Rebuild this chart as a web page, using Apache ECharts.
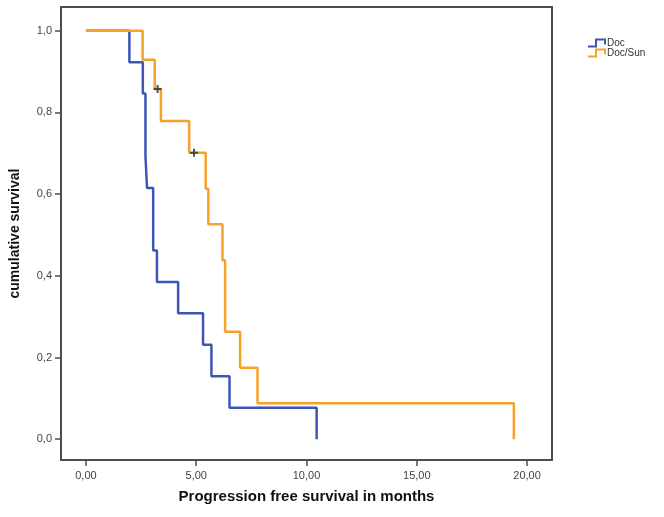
<!DOCTYPE html>
<html>
<head>
<meta charset="utf-8">
<script src="https://cdn.jsdelivr.net/npm/echarts@6/dist/echarts.min.js"></script>
<style>
  html, body { margin: 0; padding: 0; background: #fff; }
  #chart { width: 664px; height: 517px; }
</style>
</head>
<body>
<div id="chart"></div>
<script>
// Kaplan-Meier steps
const docTimes = [0, 1.97, 2.58, 2.70, 2.77, 3.05, 3.22, 4.18, 5.31, 5.69, 6.51, 10.46]
const docSurv = [1.0, 0.923, 0.846, 0.692, 0.615, 0.462, 0.385, 0.308, 0.231, 0.154, 0.077, 0.0]
const sunTimes = [0, 2.57, 3.12, 3.40, 4.68, 5.43, 5.55, 6.19, 6.31, 6.99, 7.78, 19.40]
const sunSurv = [1.0, 0.929, 0.857, 0.779, 0.701, 0.613, 0.526, 0.438, 0.263, 0.175, 0.088, 0.0]
// censored points (Doc/Sun)
const censorTimes = [3.25, 4.90]
const censorSurv = [0.857, 0.701]

const xTicks = [0, 5, 10, 15, 20]
const yTicks = [0, 0.2, 0.4, 0.6, 0.8, 1.0]

const font = 'Liberation Sans, Arial, sans-serif'
const axisColor = '#4d4d4d'
const stepIcon = 'path://M0,7 L7,7 L7,0 L18,0 L18,6 L16,6 L16,2 L9,2 L9,9 L0,9 Z'

function pairs(xs, ys) {
  return xs.map((x, i) => [x, ys[i]])
}

const chart = echarts.init(document.getElementById('chart'))
chart.setOption({
  animation: false,
  textStyle: { fontFamily: font },
  grid: {
    left: 60, top: 7, right: 112, bottom: 57,
    show: true,
    borderColor: axisColor,
    borderWidth: 2
  },
  legend: {
    orient: 'vertical',
    left: 583,
    top: 33,
    itemGap: 0,
    itemWidth: 18,
    itemHeight: 9,
    textStyle: { fontSize: 10, color: '#333', padding: [0, 0, 0, -4] },
    data: [
      { name: 'Doc', icon: stepIcon },
      { name: 'Doc/Sun', icon: stepIcon }
    ]
  },
  xAxis: {
    type: 'value',
    min: -1.13,
    max: 21.13,
    name: 'Progression free survival in months',
    nameLocation: 'middle',
    nameGap: 29,
    nameTextStyle: { fontSize: 15, fontWeight: 'bold', color: '#111' },
    splitLine: { show: false },
    axisLine: { show: true, onZero: false, lineStyle: { color: axisColor, width: 2 } },
    axisTick: { show: true, inside: false, length: 6, customValues: xTicks, lineStyle: { color: axisColor, width: 1.5 } },
    axisLabel: {
      customValues: xTicks,
      margin: 10,
      fontSize: 11,
      color: '#444',
      formatter: v => v.toFixed(2).replace('.', ',')
    }
  },
  yAxis: {
    type: 'value',
    min: -0.051,
    max: 1.058,
    name: 'cumulative survival',
    nameLocation: 'middle',
    nameGap: 39,
    nameTextStyle: { fontSize: 14, fontWeight: 'bold', color: '#111' },
    splitLine: { show: false },
    axisLine: { show: true, onZero: false, lineStyle: { color: axisColor, width: 2 } },
    axisTick: { show: true, inside: false, length: 6, customValues: yTicks, lineStyle: { color: axisColor, width: 1.5 } },
    axisLabel: {
      customValues: yTicks,
      margin: 9,
      fontSize: 11,
      color: '#444',
      formatter: v => v.toFixed(1).replace('.', ',')
    }
  },
  series: [
    {
      name: 'Doc',
      type: 'line',
      step: 'end',
      showSymbol: false,
      color: '#3e55b5',
      lineStyle: { width: 2.5, color: '#3e55b5' },
      data: pairs(docTimes, docSurv)
    },
    {
      name: 'Doc/Sun',
      type: 'line',
      step: 'end',
      showSymbol: false,
      color: '#f6a12c',
      lineStyle: { width: 2.5, color: '#f6a12c' },
      data: pairs(sunTimes, sunSurv)
    },
    {
      name: 'censored',
      type: 'scatter',
      symbol: 'path://M3,0 L5,0 L5,3 L8,3 L8,5 L5,5 L5,8 L3,8 L3,5 L0,5 L0,3 L3,3 Z',
      symbolSize: 8,
      itemStyle: { color: '#2a2a2a' },
      z: 5,
      data: pairs(censorTimes, censorSurv)
    }
  ]
})
</script>
</body>
</html>
